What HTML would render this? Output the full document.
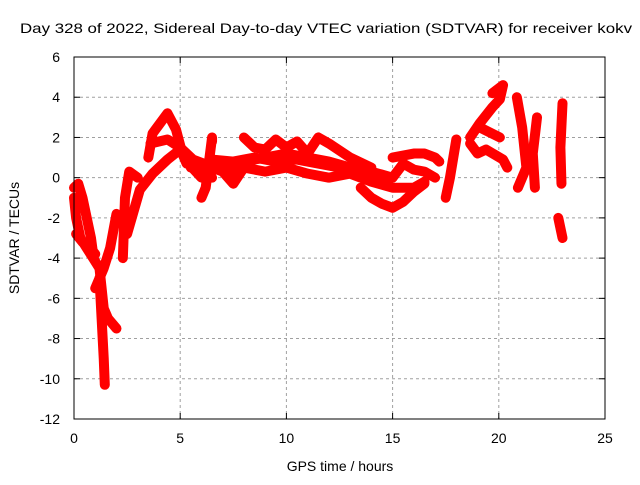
<!DOCTYPE html>
<html><head><meta charset="utf-8"><style>
body{margin:0;background:#fff}
svg text{font-family:"Liberation Sans",sans-serif;font-size:14px;fill:#000}
</style></head><body>
<svg id="chart" width="640" height="480">
<text x="20" y="33" textLength="612" lengthAdjust="spacingAndGlyphs">Day 328 of 2022, Sidereal Day-to-day VTEC variation (SDTVAR) for receiver kokv</text>
<text x="340" y="471" text-anchor="middle">GPS time / hours</text>
<text transform="translate(19,238) rotate(-90)" text-anchor="middle">SDTVAR / TECUs</text>
<g id="grid"></g><g id="ticks"></g><g id="marks"></g>
<rect x="74" y="57" width="531" height="362" fill="none" stroke="#000" stroke-width="1"/>
</svg>
<script>
const xTicks=[0,5,10,15,20,25];
const yTicks=[6,4,2,0,-2,-4,-6,-8,-10,-12];
const trackA=[[0,-0.5],[0.2,-0.3],[0.4,-1],[0.6,-2],[0.8,-3],[0.9,-3.8]];
const trackB=[[0,-1],[0.1,-2],[0.3,-3],[0.6,-3.5],[0.9,-4],[1.2,-4.5],[1.3,-5.5],[1.4,-6.5],[1.6,-7],[2,-7.5]];
const trackC=[[1.2,-5],[1.3,-7],[1.4,-9],[1.45,-10.3]];
const trackD=[[1.0,-5.5],[1.4,-4.5],[1.7,-3.5],[2.0,-1.8]];
const trackE=[[2.3,-4],[2.4,-1],[2.6,0.3],[3.0,0]];
const trackF=[[2.5,-2.8],[3.1,-0.6],[3.7,0.2],[4.4,0.9],[5.0,1.4]];
const trackG=[[3.5,1.0],[3.7,2.2],[4.4,3.2],[4.8,2.4],[5.1,1.2],[5.3,0.7]];
const trackH=[[3.6,1.7],[4.4,1.9],[5,1.5],[5.6,0.9],[6.1,0.7],[6.5,0]];
const trackI=[[5.5,0.5],[6.5,0.5],[7.5,0.3],[8,0.8],[9,1],[10,1.2],[11,1],[12,0.8],[13,0.5],[14,0.3],[15,0]];
const trackJ=[[8,2],[8.5,1.5],[9,1.4],[9.5,1.9],[10,1.5],[10.5,1.8],[11,1.2],[11.5,2],[12,1.7],[13,1],[14,0.5]];
const trackK=[[7,0.5],[8,0.5],[9,0.3],[10,0.5],[11,0.2],[12,0],[13,0.2],[14,-0.2],[15,-0.5],[16,-0.5],[16.5,-0.2]];
const trackL=[[13.5,-0.5],[14,-1],[14.5,-1.3],[15,-1.5],[15.5,-1.2],[16,-0.7],[16.5,-0.3]];
const trackM=[[13,0.5],[14,0.2],[15,0],[15.5,0.7],[16,0.4],[16.5,0.3],[17,0]];
const trackN=[[15,1],[16,1.2],[16.5,1.2],[17,1],[17.2,0.8]];
const trackO=[[5.3,0.8],[6,0],[6.5,0.5],[7,0.3],[7.5,-0.3],[8,0.5]];
const trackP=[[6,-1],[6.2,-0.5],[6.5,2],[6.5,1.8]];
const trackQ=[[17.5,-1],[17.7,0],[18,1.9]];
const trackR=[[18.65,2.0],[19.1,2.7],[19.7,3.5],[20.05,3.9],[20.2,4.6],[19.7,4.2]];
const trackS=[[18.65,1.7],[19.0,1.2],[19.4,1.4],[20.2,0.9],[20.4,0.5]];
const trackT=[[19.1,2.5],[20.05,2.0]];
const trackU=[[20.85,4.0],[21.1,2.5],[21.3,0.5],[20.9,-0.5]];
const trackV=[[21.8,3],[21.6,1.2],[21.7,-0.5]];
const trackW=[[23.0,3.7],[22.9,1.5],[22.95,-0.3]];
const trackX=[[22.8,-2],[23.0,-3]];
const trackY=[[6.5,0.9],[7.5,0.8],[8.5,1.0],[9.5,0.8],[10.5,0.9],[11.5,0.7],[12.5,0.5],[13.5,0.4]];
const trackZ=[[0.1,-2.8],[0.4,-3.2],[0.7,-3.4],[1.0,-3.8]];
const tracks=[trackA,trackB,trackC,trackD,trackE,trackF,trackG,trackH,trackI,trackJ,trackK,trackL,trackM,trackN,trackO,trackP,trackQ,trackR,trackS,trackT,trackU,trackV,trackW,trackX,trackY,trackZ];
const NS="http://www.w3.org/2000/svg";
const X0=74,X1=605,Y0=419,Y1=57;
function xs(h){return X0+(h-0)/(25-0)*(X1-X0);}
function ys(v){return Y0-(v-(-12))/(6-(-12))*(Y0-Y1);}
function mk(tag,attrs,parent){const e=document.createElementNS(NS,tag);for(const k in attrs)e.setAttribute(k,attrs[k]);parent.appendChild(e);return e;}
const grid=document.getElementById('grid'),ticks=document.getElementById('ticks'),marks=document.getElementById('marks');
xTicks.forEach(t=>{
  const x=xs(t);
  if(t>0&&t<25){const g=mk('line',{x1:x,x2:x,y1:Y1,y2:Y0,stroke:'#a0a0a0','stroke-dasharray':'3,3'},grid);
  
  }
  mk('line',{x1:x,x2:x,y1:Y0,y2:Y0-6,stroke:'#000'},ticks);
  mk('line',{x1:x,x2:x,y1:Y1,y2:Y1+6,stroke:'#000'},ticks);
  const l=mk('text',{x:x,y:Y0+24,'text-anchor':'middle'},ticks);l.textContent=t;
  
  
});
yTicks.forEach(t=>{
  const y=ys(t);
  if(t>-12&&t<6){const g=mk('line',{x1:X0,x2:X1,y1:y,y2:y,stroke:'#a0a0a0','stroke-dasharray':'3,3'},grid);
  
  }
  mk('line',{x1:X0,x2:X0+6,y1:y,y2:y,stroke:'#000'},ticks);
  mk('line',{x1:X1,x2:X1-6,y1:y,y2:y,stroke:'#000'},ticks);
  const l=mk('text',{x:X0-14,y:y+5,'text-anchor':'end'},ticks);l.textContent=t;
  
  
});
tracks.forEach(tr=>{
  const pts=tr.map(p=>xs(p[0])+','+ys(p[1])).join(' ');
  const pl=mk('polyline',{points:pts,fill:'none',stroke:'#ff0000','stroke-width':10,'stroke-linejoin':'round','stroke-linecap':'round'},marks);
  
  
  tr.forEach(p=>{
    const x=xs(p[0]),y=ys(p[1]);
    const m=mk('path',{d:`M${x-4},${y}h8M${x},${y-4}v8`,stroke:'#ff0000','stroke-width':1.5},marks);
    
    
  });
});
</script>
</body></html>
